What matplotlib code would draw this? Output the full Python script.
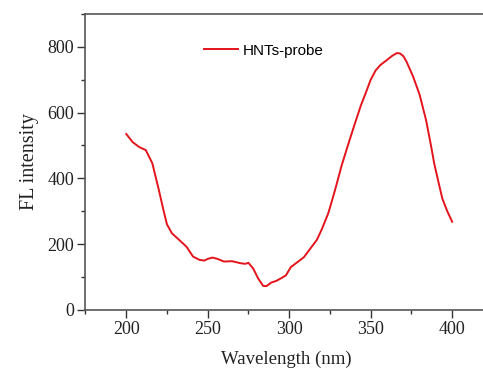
import numpy as np
import matplotlib.pyplot as plt
from matplotlib.ticker import MultipleLocator

# spectrum
wavelength = [200, 204, 208, 212, 216, 220, 223, 225, 228, 232, 237, 241, 245, 248,
              250, 253, 256, 260, 265, 270, 273, 275, 278, 281, 284, 286, 289, 292,
              295, 298, 301, 305, 309, 312, 317, 320, 324, 328, 332, 336, 340, 344,
              347, 350, 353, 356, 360, 363, 366, 368, 370, 372, 376, 380, 384, 387,
              389, 392, 394, 397, 400]
intensity = [535, 510, 495, 486, 446, 365, 300, 260, 233, 215, 192, 162, 152, 150,
             155, 159, 155, 147, 148, 142, 140, 143, 125, 95, 73, 72, 83, 88,
             96, 105, 130, 145, 160, 180, 213, 245, 294, 362, 436, 500, 562, 622,
             660, 700, 728, 745, 760, 772, 781, 780, 772, 755, 710, 655, 577, 500,
             445, 380, 338, 300, 268]

plt.rcParams['font.family'] = ['Liberation Serif', 'DejaVu Serif']

fig = plt.figure(figsize=(4.83, 3.68), dpi=100)
ax = fig.add_axes([0.177, 0.158, 0.83, 0.804])

ax.plot(wavelength, intensity, color='#e3141b', lw=1.4, label='HNTs-probe')

ax.set_xlim(175, 421)
ax.set_ylim(0, 900)
ax.xaxis.set_major_locator(MultipleLocator(50))
ax.xaxis.set_minor_locator(MultipleLocator(25))
ax.yaxis.set_major_locator(MultipleLocator(200))
ax.yaxis.set_minor_locator(MultipleLocator(100))
ax.tick_params(which='major', direction='out', length=6, width=1, pad=2, labelsize=13, colors='#333333')
ax.tick_params(which='minor', direction='out', length=3, width=1, colors='#333333')
ax.tick_params(labelcolor='#222222')
for s in ['left', 'bottom', 'top']:
    ax.spines[s].set_color('#555555')
    ax.spines[s].set_linewidth(1.2)
ax.spines['right'].set_visible(False)

ax.set_xlabel('Wavelength (nm)', fontsize=13.5, color='#222222', labelpad=9)
ax.set_ylabel('FL intensity', fontsize=14.5, color='#222222', labelpad=6)

ax.legend(loc='upper left', bbox_to_anchor=(0.262, 0.946), frameon=False,
          prop={'family': 'Liberation Sans', 'size': 11}, handlelength=2.2, handletextpad=0.3)

plt.savefig('out.png', dpi=100)
